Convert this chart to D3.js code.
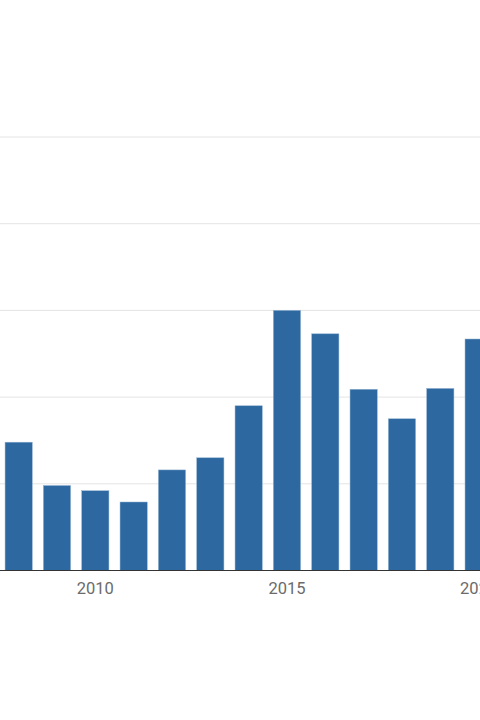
<!DOCTYPE html>
<html>
<head>
<meta charset="utf-8">
<script src="https://cdn.jsdelivr.net/npm/d3@7"></script>
<style>
  html, body { margin: 0; padding: 0; background: #fff; }
  svg { display: block; }
</style>
</head>
<body>
<svg id="chart" width="480" height="720"></svg>
<script>
const width = 480;
const height = 720;

// values (one gridline = 10)
const years = [2008, 2009, 2010, 2011, 2012, 2013, 2014, 2015, 2016, 2017, 2018, 2019, 2020];
const values = [14.8, 9.8, 9.2, 7.9, 11.6, 13.0, 19.0, 30.0, 27.3, 20.9, 17.5, 21.0, 26.7];
const yTicks = [0, 10, 20, 30, 40, 50];
const xLabels = [2010, 2015, 2020];

const svg = d3.select("#chart");

// the view is cropped: bands run off both edges
const x = d3.scaleBand()
  .domain(years)
  .range([-0.5, 497.8])
  .paddingInner(0.29)
  .paddingOuter(0.145);

const y = d3.scaleLinear()
  .domain([0, 50])
  .range([570.5, 137]);

// gridlines
svg.append("g")
  .selectAll("line")
  .data(yTicks.slice(1))
  .enter()
  .append("line")
    .attr("x1", 0)
    .attr("x2", width)
    .attr("y1", d => y(d))
    .attr("y2", d => y(d))
    .attr("stroke", "#e4e4e4")
    .attr("stroke-width", 1);

// bars
svg.append("g")
  .selectAll("rect")
  .data(years)
  .enter()
  .append("rect")
    .attr("x", d => x(d))
    .attr("y", (d, i) => y(values[i]))
    .attr("width", x.bandwidth())
    .attr("height", (d, i) => y(0) - y(values[i]))
    .attr("fill", "#2d69a0")
    .attr("stroke", "#8fb0cf")
    .attr("stroke-width", 0.5);

// baseline + labels
const xAxis = svg.append("g")
  .attr("transform", `translate(0,${y(0)})`)
  .call(d3.axisBottom(x).tickValues(xLabels).tickSize(0).tickPadding(12));

xAxis.select(".domain")
  .attr("d", `M0,0H${width}`)
  .attr("stroke", "#333")
  .attr("stroke-width", 1.2);

xAxis.selectAll("text")
  .attr("fill", "#6b6b6b")
  .style("font-family", "Roboto, 'Noto Sans', sans-serif")
  .style("font-size", "16.5px");
</script>
</body>
</html>
